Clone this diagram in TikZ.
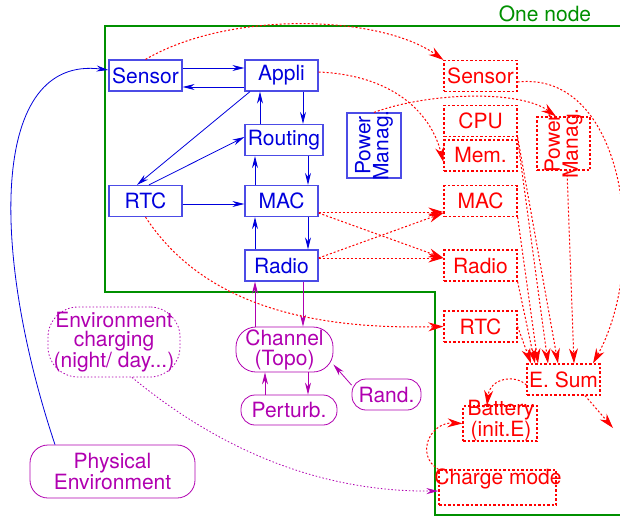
\documentclass[tikz,border=0pt]{standalone}
\usepackage{fontspec}
\setmainfont{TeX Gyre Heros}
\usetikzlibrary{arrows.meta}
\definecolor{nodegreen}{RGB}{0,144,0}
\definecolor{swblue}{RGB}{0,0,220}
\definecolor{envmag}{RGB}{176,0,176}

\begin{document}
\begin{tikzpicture}[x=1pt, y=-1pt, every node/.style={font=\fontsize{21}{18}\selectfont, inner sep=0pt},
	sw/.style={draw=swblue!70, text=swblue, line width=1.2pt, minimum width=73pt, minimum height=31pt},
	hw/.style={draw=red, text=red, dash pattern=on 2.5pt off 2pt, line width=1.2pt, minimum width=73pt, minimum height=31pt},
	env/.style={draw=envmag, text=envmag, rounded corners=12pt, line width=0.8pt, align=center},
	swlink/.style={-{Stealth[length=12pt, width=6pt]}, swblue, line width=0.8pt},
	hwlink/.style={-{Stealth[length=15pt, width=9pt]}, red, line width=1pt, dash pattern=on 2pt off 2pt},
	envlink/.style={-{Stealth[length=12pt, width=6pt]}, envmag, line width=0.8pt}]
	\useasboundingbox (0,0) rectangle (620,516);
	\draw[nodegreen, line width=1.6pt] (620,26) -- (105,26) -- (105,292) -- (435,292) -- (435,515) -- (620,515);
	\node[nodegreen] (onenode) at (545,14) {One node};
	\node[sw] (sensor) at (145.5,75.5) {Sensor};
	\node[sw] (appli) at (281.5,75.5) {Appli};
	\node[sw, minimum width=78pt] (routing) at (284,140) {Routing};
	\node[sw] (rtc) at (145.5,201) {RTC};
	\node[sw] (mac) at (281.5,201) {MAC};
	\node[sw] (radio) at (281.5,265.5) {Radio};
	\node[sw, minimum width=54pt, minimum height=65pt] (power) at (374,145.5) {};
	\node[swblue, rotate=90, align=center] (powertxt) at (power) {Power\\Manag.};
	\node[hw] (hsensor) at (480.5,76) {Sensor};
	\node[hw] (cpu) at (480.5,121) {CPU};
	\node[hw] (mem) at (480.5,155.5) {Mem.};
	\node[hw] (hmac) at (480.5,201) {MAC};
	\node[hw] (hradio) at (480.5,265.5) {Radio};
	\node[hw] (hrtc) at (480.5,326.5) {RTC};
	\node[hw, minimum width=53pt, minimum height=53pt] (hpower) at (563.5,143.5) {};
	\node[red, rotate=90, align=center] (hpowertxt) at (hpower) {Power\\Manag.};
	\node[hw] (esum) at (563.5,379.5) {E. Sum};
	\node[hw, minimum width=74pt, minimum height=35pt] (battery) at (500,423.5) {};
	\node[red, align=center, font=\fontsize{21}{17}\selectfont] (batterytxt) at (501,421) {Battery\\(init.E)};
	\node[hw, minimum width=117pt, minimum height=35pt] (charge) at (497.5,487.5) {};
	\node[red] (chargetxt) at (498,479) {Charge mode};
	\node[env, minimum width=97pt, minimum height=45pt, rounded corners=20pt, font=\fontsize{21}{20}\selectfont] (channel) at (284.5,349.5) {Channel\\(Topo)};
	\node[env, minimum width=96pt, minimum height=30pt, rounded corners=14pt] (perturb) at (289,410) {Perturb.};
	\node[env, minimum width=69pt, minimum height=31pt, rounded corners=14pt] (rand) at (386.5,394.5) {Rand.};
	\node[env, minimum width=165pt, minimum height=53pt, rounded corners=18pt, font=\fontsize{21}{19}\selectfont] (physenv) at (112.5,471.5) {Physical\\Environment};
	\node[env, dash pattern=on 1.5pt off 2pt, minimum width=132pt, minimum height=70pt, rounded corners=30pt, font=\fontsize{21}{19}\selectfont] (charging) at (114,342) {Environment\\charging\\(night/ day...)};
	\draw[swlink] (sensor.east |- 0,68) -- (appli.west |- 0,68);
	\draw[swlink] (appli.west |- 0,87) -- (sensor.east |- 0,87);
	\draw[swlink] (appli.south -| 250,0) -- (rtc.north -| 137,0);
	\draw[swlink] (rtc.north -| 149,0) -- (routing.west |- 0,137);
	\draw[swlink] (routing.north -| 260,0) -- (appli.south -| 260,0);
	\draw[swlink] (appli.south -| 303,0) -- (routing.north -| 303,0);
	\draw[swlink] (mac.north -| 255,0) -- (routing.south -| 255,0);
	\draw[swlink] (routing.south -| 308,0) -- (mac.north -| 308,0);
	\draw[swlink] (rtc.east |- 0,204) -- (mac.west |- 0,204);
	\draw[swlink] (radio.north -| 255,0) -- (mac.south -| 255,0);
	\draw[swlink] (mac.south -| 308,0) -- (radio.north -| 308,0);
	\draw[swlink] (physenv.north -| 55,0) .. controls (-10,250) and (-10,55) .. (sensor.west |- 0,70);
	\draw[envlink] (channel.north -| 255,0) -- (radio.south -| 255,0);
	\draw[envlink] (radio.south -| 303,0) -- (channel.north -| 303,0);
	\draw[envlink] (perturb.north -| 265,0) -- (channel.south -| 265,0);
	\draw[envlink] (channel.south -| 308,0) -- (perturb.north -| 308,0);
	\draw[envlink] (rand.165) -- (channel.-17);
	\draw[envlink, dash pattern=on 1.5pt off 2pt] (charging.south -| 132,0) .. controls (220,450) and (320,492) .. (charge.west |- 0,491);
	\draw[hwlink] (sensor.north) .. controls (230,10) and (380,15) .. (hsensor.north west);
	\draw[hwlink] (appli.east |- 0,72) .. controls (390,75) and (430,110) .. (mem.west |- 0,162);
	\draw[hwlink] (power.north) .. controls (430,92) and (520,90) .. (hpower.north -| 556,0);
	\draw[hwlink] (mac.east |- 0,212) -- (hmac.west |- 0,212);
	\draw[hwlink] (mac.east |- 0,213) -- (hradio.west |- 0,258);
	\draw[hwlink] (radio.east |- 0,258) -- (hmac.west |- 0,213);
	\draw[hwlink] (radio.east |- 0,258) -- (hradio.west |- 0,258);
	\draw[hwlink] (rtc.south) .. controls (200,300) and (300,330) .. (hrtc.west);
	\draw[hwlink] (hsensor.east |- 0,82) .. controls (625,70) and (650,260) .. (esum.north -| 593,0);
	\draw[hwlink] (hpower.south -| 567,0) -- (esum.north -| 574,0);
	\draw[hwlink] (cpu.south east) -- (esum.north -| 558,0);
	\draw[hwlink] (mem.north east) -- (esum.north -| 548,0);
	\draw[hwlink] (hmac.south east) -- (esum.north -| 538,0);
	\draw[hwlink] (hradio.south east) -- (esum.north -| 535,0);
	\draw[hwlink] (hrtc.east) -- (esum.north -| 531,0);
	\coordinate (sumout) at (613,428);
	\draw[hwlink] (esum.south -| 585,0) -- (sumout);
	\draw[hwlink] (esum.west |- 0,385) .. controls (515,374) and (490,378) .. (battery.north -| 487,0);
	\draw[hwlink] (charge.north west) .. controls (415,455) and (430,422) .. (battery.west);
\end{tikzpicture}
\end{document}
